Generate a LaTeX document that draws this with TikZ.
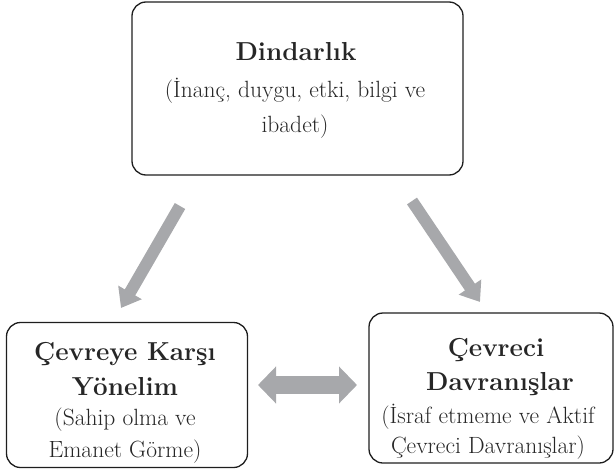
\documentclass[tikz,border=0pt]{standalone}
\usepackage{fontspec}
\usetikzlibrary{arrows.meta}
\definecolor{arrowgray}{HTML}{A7A8AB}
\definecolor{boxline}{HTML}{1E1E1E}
\tikzset{
  box/.style={draw=boxline, line width=1.3pt, rounded corners=14pt, inner sep=0pt},
  ttl/.style={anchor=base, inner sep=0pt, font=\fontsize{26}{30}\selectfont\bfseries, text=black!85},
  sub/.style={anchor=base, inner sep=0pt, font=\fontsize{23.5}{27}\selectfont, text=black!85},
  grayarrow/.style={draw=arrowgray, line width=12pt, -{Triangle[width=26pt,length=18pt]}},
  dblarrow/.style={draw=arrowgray, line width=18pt, {Triangle[width=36pt,length=18pt]}-{Triangle[width=36pt,length=18pt]}}
}
\begin{document}
\begin{tikzpicture}[x=1pt,y=-1pt]
\useasboundingbox (0,0) rectangle (616,471);
% boxes
\node[box, minimum width=331pt, minimum height=173pt] (top) at (297.5,88.5) {};
\node[box, minimum width=241pt, minimum height=145pt] (left) at (127,395) {};
\node[box, minimum width=244pt, minimum height=150pt] (right) at (491,388) {};
% texts
\node[ttl] (t1) at (296,60) {Dindarlık};
\node[sub] (t2) at (295,97) {(İnanç, duygu, etki, bilgi ve};
\node[sub] (t3) at (295,132) {ibadet)};
\node[ttl] (l1) at (125,360) {Çevreye Karşı};
\node[ttl] (l2) at (125,395) {Yönelim};
\node[sub] (l3) at (125,425) {(Sahip olma ve};
\node[sub] (l4) at (125,457) {Emanet Görme)};
\node[ttl] (r1) at (496,356) {Çevreci};
\node[ttl] (r2) at (500,390) {Davranışlar};
\node[sub] (r3) at (488,423) {(İsraf etmeme ve Aktif};
\node[sub] (r4) at (488,453) {Çevreci Davranışlar)};
% arrow end points
\coordinate (a1s) at (180,206);
\coordinate (a1e) at (121,308);
\coordinate (a2s) at (412,201);
\coordinate (a2e) at (480,302);
\coordinate (a3s) at (258,385);
\coordinate (a3e) at (357,385);
\draw[grayarrow] (a1s) -- (a1e);
\draw[grayarrow] (a2s) -- (a2e);
\draw[dblarrow] (a3s) -- (a3e);
\end{tikzpicture}
\end{document}
